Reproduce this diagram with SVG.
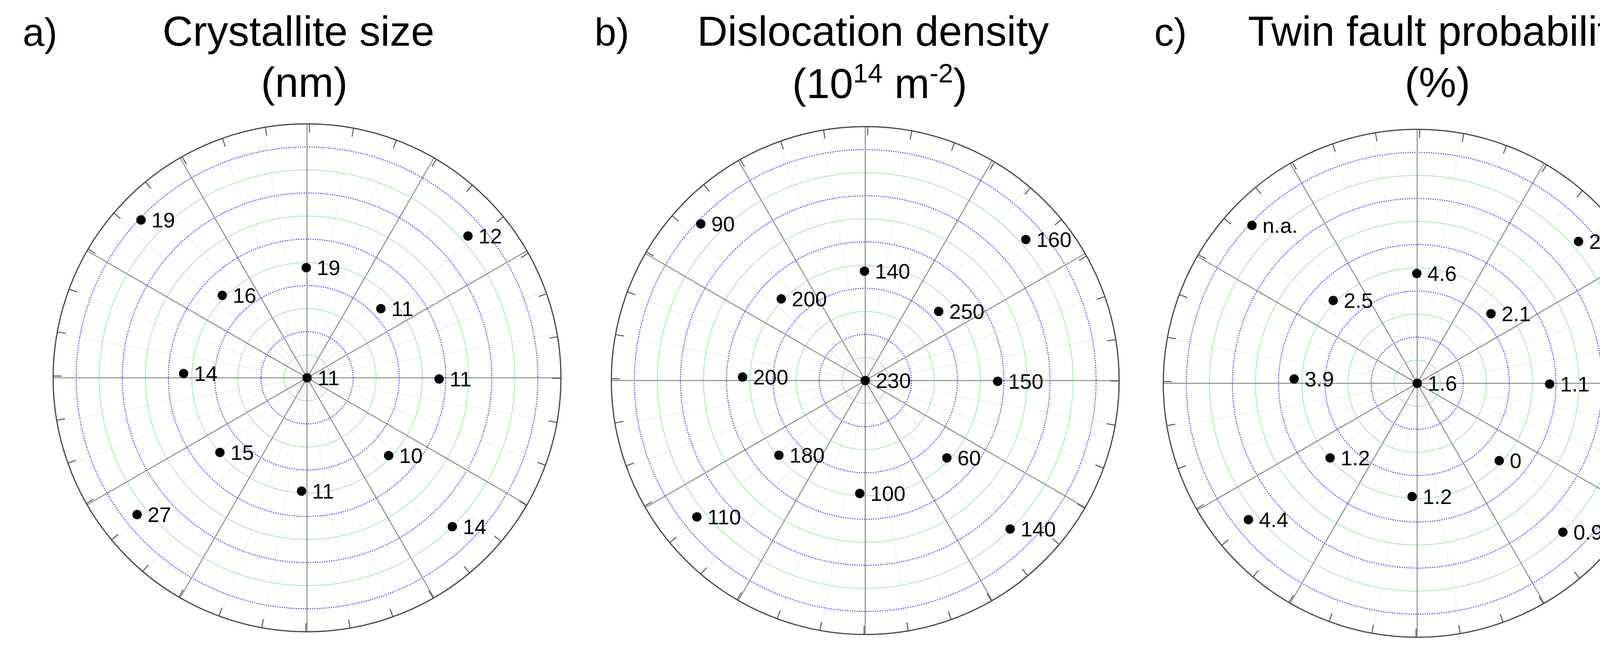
<svg xmlns="http://www.w3.org/2000/svg" xmlns:xlink="http://www.w3.org/1999/xlink" width="4312" height="1656" viewBox="0 0 4312 1656">
<style>
text{font-family:"Liberation Sans",Arial,sans-serif;fill:#000}
.t{font-size:108px;text-anchor:middle}
.p{font-size:100px}
.l{font-size:54px}
.b{fill:none;stroke:#4040ff;stroke-width:2.5;stroke-dasharray:3 3}
.g{fill:none;stroke:#b4ecb4;stroke-width:2.5}
.mj{stroke:#8a8a8a;stroke-width:2.5}
.mn{stroke:#efefef;stroke-width:2}
.o{fill:none;stroke:#444;stroke-width:3}
.tk{fill:none;stroke:#555;stroke-width:22;stroke-dasharray:2.5 109.2}
.d{fill:#000}
</style>
<defs>
<g id="grid">
<g>
<line class="mn" x1="-640" y1="-113" x2="640" y2="113"/><line class="mn" x1="-640" y1="113" x2="640" y2="-113"/>
<line class="mn" x1="-611" y1="-222" x2="611" y2="222"/><line class="mn" x1="-611" y1="222" x2="611" y2="-222"/>
<line class="mn" x1="-498" y1="-418" x2="498" y2="418"/><line class="mn" x1="-498" y1="418" x2="498" y2="-418"/>
<line class="mn" x1="-418" y1="-498" x2="418" y2="498"/><line class="mn" x1="-418" y1="498" x2="418" y2="-498"/>
<line class="mn" x1="-222" y1="-611" x2="222" y2="611"/><line class="mn" x1="-222" y1="611" x2="222" y2="-611"/>
<line class="mn" x1="-113" y1="-640" x2="113" y2="640"/><line class="mn" x1="-113" y1="640" x2="113" y2="-640"/>
</g>
<circle class="g" r="59"/><circle class="b" r="118"/><circle class="g" r="177"/><circle class="b" r="236"/>
<circle class="g" r="295"/><circle class="b" r="355"/><circle class="g" r="414"/><circle class="b" r="473"/>
<circle class="g" r="532"/><circle class="b" r="591"/>
<line class="mj" x1="-650" y1="0" x2="650" y2="0"/><line class="mj" x1="0" y1="-650" x2="0" y2="650"/>
<line class="mj" x1="-563" y1="-325" x2="563" y2="325"/><line class="mj" x1="-563" y1="325" x2="563" y2="-325"/>
<line class="mj" x1="-325" y1="-563" x2="325" y2="563"/><line class="mj" x1="-325" y1="563" x2="325" y2="-563"/>
<circle class="tk" r="639"/>
<circle class="o" r="650"/>
</g>
</defs>

<g id="panel-a">
<text class="p" x="58" y="117">a)</text>
<text class="t" x="764" y="117">Crystallite size</text>
<text class="t" x="779" y="248">(nm)</text>
<use xlink:href="#grid" href="#grid" transform="translate(786,967)"/>
<g id="a-points">
<circle class="d" cx="784" cy="685" r="12"/><text class="l" x="811" y="704">19</text>
<circle class="d" cx="569" cy="756" r="12"/><text class="l" x="596" y="775">16</text>
<circle class="d" cx="975" cy="790" r="12"/><text class="l" x="1002" y="809">11</text>
<circle class="d" cx="1198" cy="604" r="12"/><text class="l" x="1225" y="623">12</text>
<circle class="d" cx="361" cy="563" r="12"/><text class="l" x="388" y="582">19</text>
<circle class="d" cx="470" cy="956" r="12"/><text class="l" x="497" y="975">14</text>
<circle class="d" cx="786" cy="967" r="12"/><text class="l" x="813" y="986">11</text>
<circle class="d" cx="1124" cy="970" r="12"/><text class="l" x="1151" y="989">11</text>
<circle class="d" cx="563" cy="1158" r="12"/><text class="l" x="590" y="1177">15</text>
<circle class="d" cx="995" cy="1166" r="12"/><text class="l" x="1022" y="1185">10</text>
<circle class="d" cx="772" cy="1257" r="12"/><text class="l" x="799" y="1276">11</text>
<circle class="d" cx="351" cy="1317" r="12"/><text class="l" x="378" y="1336">27</text>
<circle class="d" cx="1158" cy="1348" r="12"/><text class="l" x="1185" y="1367">14</text>
</g>
</g>

<g id="panel-b">
<text class="p" x="1522" y="117">b)</text>
<text class="t" x="2235" y="117">Dislocation density</text>
<text class="t" x="2252" y="251">(10<tspan font-size="68" dy="-40">14</tspan><tspan dy="40"> m</tspan><tspan font-size="68" dy="-40">-2</tspan><tspan dy="40">)</tspan></text>
<use xlink:href="#grid" href="#grid" transform="translate(2215,974)"/>
<g id="b-points">
<circle class="d" cx="1794" cy="573" r="12"/><text class="l" x="1821" y="592">90</text>
<circle class="d" cx="2626" cy="613" r="12"/><text class="l" x="2653" y="632">160</text>
<circle class="d" cx="2213" cy="694" r="12"/><text class="l" x="2240" y="713">140</text>
<circle class="d" cx="2000" cy="765" r="12"/><text class="l" x="2027" y="784">200</text>
<circle class="d" cx="2403" cy="797" r="12"/><text class="l" x="2430" y="816">250</text>
<circle class="d" cx="1901" cy="965" r="12"/><text class="l" x="1928" y="984">200</text>
<circle class="d" cx="2215" cy="974" r="12"/><text class="l" x="2242" y="993">230</text>
<circle class="d" cx="2554" cy="976" r="12"/><text class="l" x="2581" y="995">150</text>
<circle class="d" cx="1994" cy="1165" r="12"/><text class="l" x="2021" y="1184">180</text>
<circle class="d" cx="2424" cy="1172" r="12"/><text class="l" x="2451" y="1191">60</text>
<circle class="d" cx="2201" cy="1263" r="12"/><text class="l" x="2228" y="1282">100</text>
<circle class="d" cx="1784" cy="1323" r="12"/><text class="l" x="1811" y="1342">110</text>
<circle class="d" cx="2586" cy="1354" r="12"/><text class="l" x="2613" y="1373">140</text>
</g>
</g>

<g id="panel-c">
<text class="p" x="2955" y="117">c)</text>
<text class="t" x="3684" y="117">Twin fault probability</text>
<text class="t" x="3680" y="248">(%)</text>
<use xlink:href="#grid" href="#grid" transform="translate(3628,981)"/>
<g id="c-points">
<circle class="d" cx="3205" cy="577" r="12"/><text class="l" x="3232" y="596">n.a.</text>
<circle class="d" cx="4041" cy="618" r="12"/><text class="l" x="4068" y="637">2.6</text>
<circle class="d" cx="3627" cy="700" r="12"/><text class="l" x="3654" y="719">4.6</text>
<circle class="d" cx="3413" cy="769" r="12"/><text class="l" x="3440" y="788">2.5</text>
<circle class="d" cx="3817" cy="803" r="12"/><text class="l" x="3844" y="822">2.1</text>
<circle class="d" cx="3313" cy="970" r="12"/><text class="l" x="3340" y="989">3.9</text>
<circle class="d" cx="3628" cy="981" r="12"/><text class="l" x="3655" y="1000">1.6</text>
<circle class="d" cx="3967" cy="983" r="12"/><text class="l" x="3994" y="1002">1.1</text>
<circle class="d" cx="3405" cy="1172" r="12"/><text class="l" x="3432" y="1191">1.2</text>
<circle class="d" cx="3838" cy="1179" r="12"/><text class="l" x="3865" y="1198">0</text>
<circle class="d" cx="3615" cy="1271" r="12"/><text class="l" x="3642" y="1290">1.2</text>
<circle class="d" cx="3196" cy="1330" r="12"/><text class="l" x="3223" y="1349">4.4</text>
<circle class="d" cx="4001" cy="1362" r="12"/><text class="l" x="4028" y="1381">0.9</text>
</g>
</g>
</svg>
